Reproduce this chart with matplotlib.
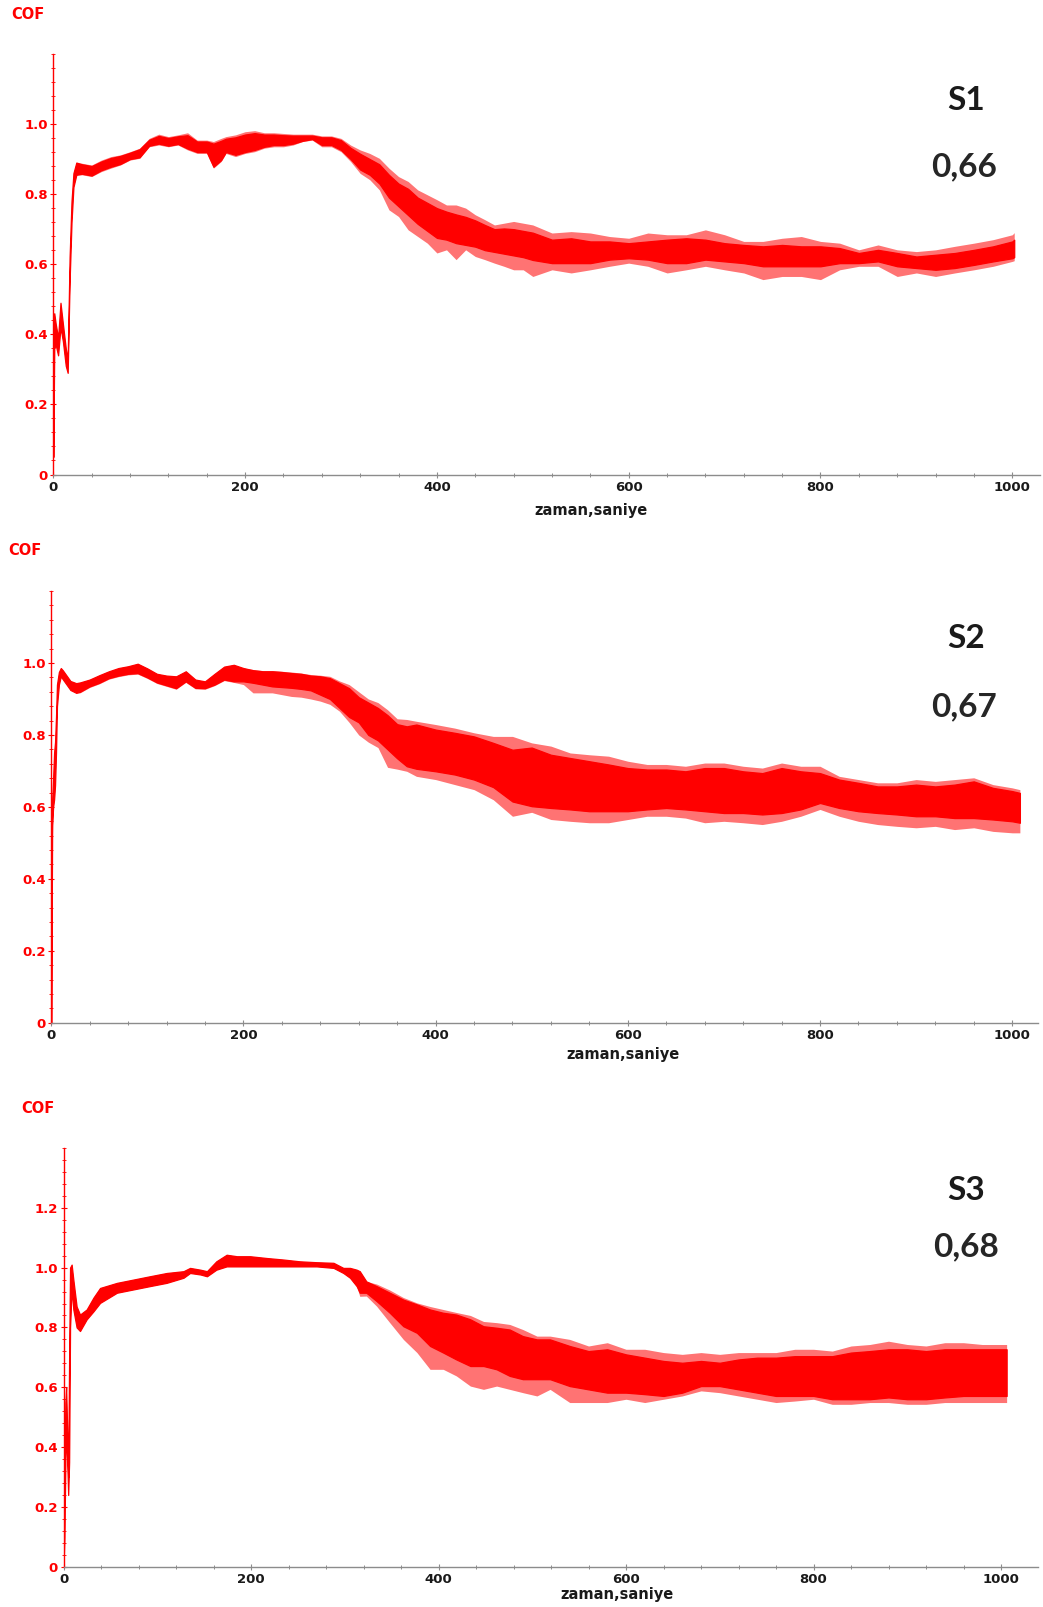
import matplotlib
matplotlib.use('Agg')
import matplotlib.pyplot as plt
from matplotlib.ticker import MultipleLocator, FixedLocator, FuncFormatter

# ---------------- data ----------------
# S1: time (s), spike maximum, dense-band top, dense-band bottom, spike minimum
s1_time = [0, 1, 2.5, 5, 7.5, 10, 13, 15, 17, 19, 21, 24,
           30, 40, 50, 60, 70, 80, 90, 100, 110, 120, 130, 140, 150, 160,
           167, 175,
           180, 190, 200, 210, 220, 230, 240, 250, 260, 270, 280, 290, 300,
           310, 320, 330, 340, 350, 360, 370, 380, 390, 400, 410, 420, 430, 440,
           450, 460, 470, 480, 490, 500,
           520, 540, 560, 580, 600, 620, 640, 660, 680, 700, 720, 740, 760, 780,
           800, 820, 840, 860, 880, 900, 920, 940, 960, 980, 1000, 1002]
s1_max = [0.45, 0.46, 0.43, 0.39, 0.49, 0.43, 0.36, 0.33, 0.62, 0.78, 0.86, 0.89,
          0.888, 0.883, 0.897, 0.907, 0.912, 0.921, 0.931, 0.959, 0.971, 0.964, 0.969, 0.975, 0.954, 0.954,
          0.950, 0.959,
          0.964, 0.969, 0.978, 0.981, 0.975, 0.975, 0.973, 0.971, 0.971, 0.971, 0.966, 0.966, 0.959,
          0.940, 0.926, 0.916, 0.902, 0.874, 0.850, 0.836, 0.812, 0.798, 0.784, 0.769, 0.769, 0.760, 0.741,
          0.727, 0.712, 0.717, 0.722, 0.717, 0.712,
          0.689, 0.693, 0.689, 0.679, 0.674, 0.689, 0.684, 0.684, 0.698, 0.684, 0.665, 0.665, 0.674, 0.679,
          0.665, 0.660, 0.641, 0.655, 0.641, 0.636, 0.641, 0.651, 0.660, 0.670, 0.684, 0.690]
s1_hi = [0.45, 0.46, 0.43, 0.39, 0.49, 0.43, 0.36, 0.33, 0.62, 0.78, 0.86, 0.89,
         0.885, 0.880, 0.893, 0.903, 0.909, 0.918, 0.928, 0.955, 0.966, 0.960, 0.965, 0.968, 0.950, 0.950,
         0.944, 0.952,
         0.958, 0.962, 0.970, 0.974, 0.970, 0.970, 0.968, 0.967, 0.967, 0.967, 0.962, 0.962, 0.954,
         0.932, 0.915, 0.900, 0.885, 0.855, 0.830, 0.815, 0.790, 0.775, 0.760, 0.750, 0.742, 0.735, 0.725,
         0.712, 0.700, 0.702, 0.700, 0.695, 0.690,
         0.670, 0.674, 0.665, 0.665, 0.660, 0.665, 0.670, 0.674, 0.670, 0.660, 0.655, 0.651, 0.655, 0.651,
         0.651, 0.646, 0.632, 0.641, 0.632, 0.622, 0.627, 0.632, 0.641, 0.651, 0.665, 0.670]
s1_lo = [0.05, 0.36, 0.37, 0.34, 0.42, 0.38, 0.31, 0.29, 0.55, 0.72, 0.82, 0.855,
         0.858, 0.853, 0.868, 0.878, 0.886, 0.900, 0.905, 0.938, 0.944, 0.938, 0.943, 0.930, 0.920, 0.920,
         0.878, 0.897,
         0.920, 0.912, 0.920, 0.926, 0.935, 0.940, 0.940, 0.944, 0.952, 0.957, 0.940, 0.940, 0.926,
         0.900, 0.870, 0.855, 0.830, 0.790, 0.765, 0.740, 0.715, 0.695, 0.675, 0.670, 0.660, 0.655, 0.650,
         0.640, 0.635, 0.630, 0.625, 0.620, 0.612,
         0.603, 0.603, 0.603, 0.613, 0.617, 0.613, 0.603, 0.603, 0.613, 0.608, 0.603, 0.594, 0.594, 0.594,
         0.594, 0.603, 0.603, 0.608, 0.594, 0.589, 0.584, 0.589, 0.598, 0.608, 0.617, 0.620]
s1_min = [0.05, 0.36, 0.37, 0.34, 0.42, 0.38, 0.31, 0.29, 0.55, 0.72, 0.82, 0.855,
          0.855, 0.850, 0.864, 0.874, 0.883, 0.897, 0.902, 0.935, 0.940, 0.935, 0.940, 0.926, 0.916, 0.916,
          0.874, 0.893,
          0.916, 0.907, 0.916, 0.921, 0.931, 0.935, 0.935, 0.940, 0.950, 0.954, 0.935, 0.935, 0.921,
          0.893, 0.859, 0.841, 0.812, 0.755, 0.736, 0.698, 0.679, 0.660, 0.632, 0.641, 0.613, 0.641, 0.622,
          0.613, 0.603, 0.594, 0.584, 0.584, 0.565,
          0.584, 0.575, 0.584, 0.594, 0.603, 0.594, 0.575, 0.584, 0.594, 0.584, 0.575, 0.556, 0.565, 0.565,
          0.556, 0.584, 0.594, 0.594, 0.565, 0.575, 0.565, 0.575, 0.584, 0.594, 0.608, 0.610]

# S2
s2_time = [0, 1, 2, 3, 4, 5, 6, 8, 10, 12, 16, 20, 26,
           30, 40, 50, 60, 70, 80, 90, 100, 110, 120, 130, 140, 150, 160, 170, 180,
           190, 200, 210, 220, 230, 240, 250, 260, 270, 280, 290, 300, 310, 320,
           330, 340, 350, 360, 370, 380,
           400, 420, 440, 460, 480, 500,
           520, 540, 560, 580, 600, 620, 640, 660, 680, 700, 720, 740, 760, 780,
           800, 820, 840, 860, 880, 900, 920, 940, 960, 980, 1000, 1008]
s2_max = [0.30, 0.62, 0.68, 0.75, 0.78, 0.85, 0.94, 0.975, 0.986, 0.98, 0.965, 0.95, 0.944,
          0.946, 0.954, 0.966, 0.977, 0.986, 0.991, 0.998, 0.985, 0.970, 0.965, 0.963, 0.977, 0.954, 0.949, 0.970, 0.990,
          0.995, 0.986, 0.982, 0.979, 0.979, 0.977, 0.975, 0.972, 0.968, 0.966, 0.963, 0.950, 0.940, 0.920,
          0.900, 0.890, 0.870, 0.845, 0.843, 0.838,
          0.829, 0.819, 0.806, 0.796, 0.796, 0.778,
          0.769, 0.750, 0.745, 0.741, 0.727, 0.718, 0.718, 0.713, 0.722, 0.722, 0.713, 0.708, 0.722, 0.713,
          0.713, 0.685, 0.676, 0.667, 0.667, 0.676, 0.671, 0.676, 0.681, 0.662, 0.653, 0.648]
s2_hi = [0.30, 0.62, 0.68, 0.75, 0.78, 0.85, 0.94, 0.975, 0.986, 0.98, 0.965, 0.95, 0.944,
         0.946, 0.954, 0.966, 0.977, 0.986, 0.991, 0.998, 0.985, 0.970, 0.965, 0.963, 0.977, 0.954, 0.949, 0.970, 0.990,
         0.995, 0.986, 0.980, 0.977, 0.977, 0.975, 0.972, 0.970, 0.965, 0.963, 0.958, 0.944, 0.930, 0.905,
         0.890, 0.875, 0.855, 0.830, 0.824, 0.829,
         0.815, 0.806, 0.796, 0.778, 0.759, 0.765,
         0.745, 0.736, 0.727, 0.718, 0.708, 0.704, 0.704, 0.699, 0.708, 0.708, 0.699, 0.694, 0.708, 0.699,
         0.694, 0.676, 0.667, 0.657, 0.657, 0.662, 0.657, 0.662, 0.671, 0.653, 0.644, 0.639]
s2_lo = [0.0, 0.55, 0.60, 0.62, 0.66, 0.75, 0.88, 0.94, 0.963, 0.955, 0.94, 0.925, 0.917,
         0.920, 0.935, 0.945, 0.958, 0.965, 0.970, 0.972, 0.960, 0.946, 0.938, 0.930, 0.949, 0.931, 0.930, 0.940, 0.954,
         0.949, 0.949, 0.945, 0.940, 0.935, 0.933, 0.931, 0.928, 0.924, 0.912, 0.900, 0.875, 0.850, 0.835,
         0.800, 0.785, 0.760, 0.735, 0.713, 0.706,
         0.699, 0.690, 0.676, 0.655, 0.615, 0.602,
         0.597, 0.593, 0.588, 0.588, 0.588, 0.593, 0.597, 0.593, 0.588, 0.583, 0.583, 0.579, 0.583, 0.593,
         0.611, 0.597, 0.588, 0.583, 0.579, 0.574, 0.574, 0.569, 0.569, 0.565, 0.560, 0.556]
s2_min = [0.0, 0.55, 0.60, 0.62, 0.66, 0.75, 0.88, 0.94, 0.963, 0.955, 0.94, 0.925, 0.917,
          0.917, 0.932, 0.942, 0.955, 0.962, 0.967, 0.969, 0.957, 0.943, 0.935, 0.927, 0.946, 0.928, 0.927, 0.937, 0.951,
          0.946, 0.940, 0.917, 0.917, 0.917, 0.912, 0.907, 0.905, 0.900, 0.894, 0.885, 0.866, 0.835, 0.800,
          0.780, 0.765, 0.710, 0.705, 0.699, 0.685,
          0.676, 0.662, 0.648, 0.620, 0.574, 0.585,
          0.565, 0.560, 0.556, 0.556, 0.565, 0.574, 0.574, 0.569, 0.556, 0.560, 0.556, 0.551, 0.560, 0.574,
          0.593, 0.574, 0.560, 0.551, 0.546, 0.542, 0.546, 0.537, 0.542, 0.532, 0.528, 0.528]

# S3
s3_time = [0, 1, 2, 2.8, 4, 5, 6, 7, 8.7, 10.5, 14, 17.6, 24.7, 32,
           39, 57, 74.5, 92, 110, 128, 135, 146, 153, 163, 174, 185, 199, 217, 234.5,
           252, 270, 288, 298.5, 305.6, 312.7, 316, 323, 334, 348, 362.5, 377, 391,
           405, 419, 434, 448, 462, 476, 490, 505, 519,
           540, 560, 580, 600, 620, 640, 660, 680, 700, 720, 740, 760, 780, 800,
           820, 840, 860, 880, 900, 920, 940, 960, 980, 1000, 1006]
s3_max = [0.10, 0.35, 0.55, 0.60, 0.45, 0.30, 0.70, 1.00, 1.01, 0.96, 0.87, 0.843, 0.86, 0.90,
          0.932, 0.949, 0.960, 0.971, 0.982, 0.988, 0.999, 0.993, 0.988, 1.021, 1.043, 1.038, 1.038, 1.032, 1.027,
          1.021, 1.018, 1.016, 0.999, 0.999, 0.993, 0.988, 0.954, 0.945, 0.925, 0.900, 0.882, 0.870,
          0.860, 0.850, 0.840, 0.820, 0.816, 0.810, 0.793, 0.771, 0.771,
          0.760, 0.738, 0.749, 0.727, 0.727, 0.716, 0.710, 0.716, 0.710, 0.716, 0.716, 0.716, 0.727, 0.727,
          0.721, 0.738, 0.743, 0.754, 0.743, 0.738, 0.749, 0.749, 0.743, 0.743, 0.743]
s3_hi = [0.10, 0.35, 0.55, 0.60, 0.45, 0.30, 0.70, 1.00, 1.01, 0.96, 0.87, 0.843, 0.86, 0.90,
         0.932, 0.949, 0.960, 0.971, 0.982, 0.988, 0.999, 0.993, 0.988, 1.021, 1.043, 1.038, 1.038, 1.032, 1.027,
         1.021, 1.018, 1.016, 0.999, 0.999, 0.993, 0.988, 0.954, 0.938, 0.916, 0.893, 0.877, 0.860,
         0.849, 0.843, 0.827, 0.804, 0.799, 0.793, 0.771, 0.760, 0.760,
         0.738, 0.721, 0.727, 0.710, 0.699, 0.688, 0.682, 0.688, 0.682, 0.693, 0.699, 0.699, 0.704, 0.704,
         0.704, 0.716, 0.721, 0.727, 0.727, 0.721, 0.727, 0.727, 0.727, 0.727, 0.727]
s3_lo = [0.0, 0.10, 0.35, 0.45, 0.35, 0.24, 0.35, 0.80, 0.93, 0.86, 0.80, 0.788, 0.827, 0.854,
         0.882, 0.916, 0.927, 0.938, 0.949, 0.966, 0.982, 0.977, 0.971, 0.993, 1.004, 1.004, 1.004, 1.004, 1.004,
         1.004, 1.004, 0.999, 0.982, 0.966, 0.938, 0.916, 0.916, 0.888, 0.849, 0.804, 0.782, 0.738,
         0.716, 0.693, 0.671, 0.671, 0.660, 0.638, 0.627, 0.627, 0.627,
         0.604, 0.593, 0.582, 0.582, 0.577, 0.571, 0.582, 0.604, 0.604, 0.593, 0.582, 0.571, 0.571, 0.571,
         0.560, 0.560, 0.560, 0.566, 0.560, 0.560, 0.566, 0.571, 0.571, 0.571, 0.571]
s3_min = [0.0, 0.10, 0.35, 0.45, 0.35, 0.24, 0.35, 0.80, 0.93, 0.86, 0.80, 0.788, 0.827, 0.854,
          0.882, 0.916, 0.927, 0.938, 0.949, 0.966, 0.982, 0.977, 0.971, 0.993, 1.004, 1.004, 1.004, 1.004, 1.004,
          1.004, 1.004, 0.999, 0.982, 0.966, 0.938, 0.904, 0.905, 0.871, 0.816, 0.760, 0.716, 0.660,
          0.660, 0.638, 0.604, 0.593, 0.604, 0.593, 0.582, 0.571, 0.593,
          0.549, 0.549, 0.549, 0.560, 0.549, 0.560, 0.571, 0.588, 0.582, 0.571, 0.560, 0.549, 0.554, 0.560,
          0.543, 0.543, 0.549, 0.549, 0.543, 0.543, 0.549, 0.549, 0.549, 0.549, 0.549]

sample_names = ["S1", "S2", "S3"]
mean_cof = ["0,66", "0,67", "0,68"]
x_ticks = [0, 200, 400, 600, 800, 1000]
y_ticks_labeled = [[0, 0.2, 0.4, 0.6, 0.8, 1.0],
                   [0, 0.2, 0.4, 0.6, 0.8, 1.0],
                   [0, 0.2, 0.4, 0.6, 0.8, 1.0, 1.2]]
y_top = [1.2, 1.2, 1.4]
y_label = "COF"
x_label = "zaman,saniye"

series = [(s1_time, s1_max, s1_hi, s1_lo, s1_min),
          (s2_time, s2_max, s2_hi, s2_lo, s2_min),
          (s3_time, s3_max, s3_hi, s3_lo, s3_min)]

# ---------------- layout (pixels) ----------------
W, H = 1043, 1607
fig = plt.figure(figsize=(W / 100, H / 100), dpi=100)

# x of t=0, px per second, right end of axis, y of 0, px per unit
geo = [(53.3, 0.959, 1040, 474.5, 350.5),
       (51.2, 0.961, 1038, 1022.8, 359.8),
       (63.5, 0.9375, 1038, 1566.8, 299.2)]
cof_pos = [(11, 14.7), (8, 550.5), (21, 1108.5)]
xlab_pos = [(591, 510), (623, 1055), (617, 1594)]
name_pos = [(966, 100), (966, 639), (966, 1190)]
val_pos = [(964, 167), (964, 707), (966, 1247)]

RED = '#ff0000'

for i, (t, vmax, vhi, vlo, vmin) in enumerate(series):
    x0, sx, xr, y0, sy = geo[i]
    top = y_top[i]
    ax = fig.add_axes([x0 / W, 1 - y0 / H, (xr - x0) / W, top * sy / H])
    ax.set_xlim(0, (xr - x0) / sx)
    ax.set_ylim(0, top)
    ax.patch.set_alpha(0)

    ax.fill_between(t, vmin, vmax, color=RED, alpha=0.55, lw=0)
    ax.fill_between(t, vlo, vhi, facecolor=RED, edgecolor=RED, lw=0.9)

    for s in ('top', 'right'):
        ax.spines[s].set_visible(False)
    ax.spines['left'].set_color(RED)
    ax.spines['left'].set_linewidth(1.0)
    ax.spines['bottom'].set_color('#8c8c8c')
    ax.spines['bottom'].set_linewidth(1.0)

    ax.xaxis.set_major_locator(FixedLocator(x_ticks))
    ax.xaxis.set_minor_locator(MultipleLocator(40))
    ax.yaxis.set_major_locator(FixedLocator(y_ticks_labeled[i]))
    ax.yaxis.set_minor_locator(MultipleLocator(0.04))
    ax.yaxis.set_major_formatter(FuncFormatter(lambda v, p: '0' if abs(v) < 1e-9 else f'{v:.1f}'))

    ax.tick_params(axis='x', which='major', direction='inout', length=5, width=0.8,
                   colors='#8c8c8c', labelcolor='#1a1a1a', labelsize=9.5, pad=2)
    ax.tick_params(axis='x', which='minor', direction='inout', length=3.5, width=0.7, color='#8c8c8c')
    ax.tick_params(axis='y', which='major', direction='inout', length=5, width=0.8,
                   colors=RED, labelcolor=RED, labelsize=9.5, pad=1.5)
    ax.tick_params(axis='y', which='minor', direction='inout', length=3, width=0.6, color=RED)
    for lab in ax.get_xticklabels() + ax.get_yticklabels():
        lab.set_fontweight('bold')

    fig.text(cof_pos[i][0] / W, 1 - cof_pos[i][1] / H, y_label, color=RED,
             fontsize=10.5, fontweight='bold', ha='left', va='center')
    fig.text(xlab_pos[i][0] / W, 1 - xlab_pos[i][1] / H, x_label, color='#1a1a1a',
             fontsize=10.5, fontweight='bold', ha='center', va='center')
    fig.text(name_pos[i][0] / W, 1 - name_pos[i][1] / H, sample_names[i], color='#1a1a1a',
             fontsize=24, fontweight='bold', family=['Lato', 'DejaVu Sans'], ha='center', va='center')
    fig.text(val_pos[i][0] / W, 1 - val_pos[i][1] / H, mean_cof[i], color='#262626',
             fontsize=24, fontweight='bold', family=['Lato', 'DejaVu Sans'], ha='center', va='center')

fig.savefig('out.png', dpi=100, facecolor='white')
